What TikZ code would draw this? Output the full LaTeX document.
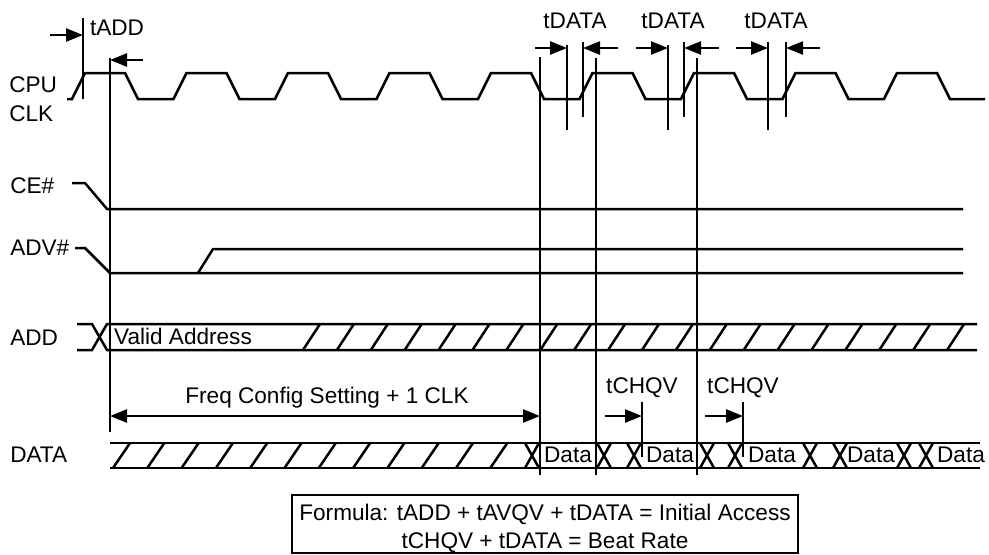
\documentclass[tikz,border=0pt]{standalone}
\usepackage{fontspec}
\setmainfont{Liberation Sans}
\usetikzlibrary{arrows.meta}
\begin{document}
\begin{tikzpicture}[x=0.5pt,y=-0.5pt,line width=1.25pt,
  lbl/.style={inner sep=0pt,font=\fontsize{11.3}{13}\selectfont},
  arr/.style={-{Triangle[length=8.5pt,width=6.5pt]}},
  darr/.style={{Triangle[length=8.5pt,width=6.5pt]}-{Triangle[length=8.5pt,width=6.5pt]}}]
\useasboundingbox (0,0) rectangle (989,554);
% ---------- signal labels
\node[lbl,anchor=base west] (cpu) at (8,92) {CPU};
\node[lbl,anchor=base west] (clk) at (8,121) {CLK};
\node[lbl,anchor=base west] (ce) at (9,193) {CE\#};
\node[lbl,anchor=base west] (adv) at (9,255) {ADV\#};
\node[lbl,anchor=base west] (add) at (9,345) {ADD};
\node[lbl,anchor=base west] (data) at (9,462) {DATA};
% ---------- CPU clock
\draw (67,99) foreach \k in {0,...,8} { -- ({72+101.5*\k},99) -- ({85+101.5*\k},73) -- ({125+101.5*\k},73) -- ({138+101.5*\k},99) } -- (985,99);
% ---------- CE#
\draw (72,183) -- (85,183) -- (107,209) -- (963,209);
% ---------- ADV#
\draw (75,248) -- (85,248) -- (110,273) -- (963,273);
\draw (198,273) -- (213,249) -- (963,249);
% ---------- ADD
\draw (77,324) -- (92,324) -- (107,350) -- (977,350);
\draw (77,350) -- (92,350) -- (107,324) -- (977,324);
\foreach \k in {0,...,19} \draw ({303+33.9*\k},350) -- ({320+33.9*\k},324);
\node[lbl,anchor=base] (valid) at (183,344) {Valid Address};
% ---------- DATA
\draw (110,443) -- (980,443);
\draw (110,468) -- (980,468);
\foreach \k in {0,...,11} \draw ({113+34.3*\k},468) -- ({130+34.3*\k},443);
\foreach \a in {525,597,627,700,728,803,833,897,919} {
  \draw (\a,443) -- ({\a+14},468);
  \draw (\a,468) -- ({\a+14},443);
}
\node[lbl,anchor=base] (d1) at (568,462) {Data};
\node[lbl,anchor=base] (d2) at (670,462) {Data};
\node[lbl,anchor=base] (d3) at (772,462) {Data};
\node[lbl,anchor=base] (d4) at (871,462) {Data};
\node[lbl,anchor=base] (d5) at (961,462) {Data};
% ---------- vertical reference lines
\coordinate (tA) at (83,18);  \coordinate (tAb) at (83,99);
\coordinate (tB) at (110,58); \coordinate (tBb) at (110,432);
\draw (tA) -- (tAb);
\draw (tB) -- (tBb);
\draw (540,57) -- (540,475);
\draw (596,58) -- (596,475);
\draw (697,58) -- (697,475);
\draw (567,45) -- (567,130);
\draw (583,42) -- (583,117);
\draw (668,45) -- (668,130);
\draw (684,42) -- (684,117);
\draw (768,42) -- (768,130);
\draw (786,42) -- (786,117);
\draw (642,402) -- (642,457);
\draw (743,402) -- (743,457);
% ---------- tADD
\node[lbl,anchor=base] (tadd) at (117,35) {tADD};
\coordinate (a1) at (50,35);  \coordinate (a1e) at (83,35);
\coordinate (a2) at (143,60); \coordinate (a2e) at (110,60);
\draw[arr] (a1) -- (a1e);
\draw[arr] (a2) -- (a2e);
% ---------- tDATA
\node[lbl,anchor=base] (td1) at (575,28) {tDATA};
\node[lbl,anchor=base] (td2) at (673,28) {tDATA};
\node[lbl,anchor=base] (td3) at (776,28) {tDATA};
\draw[arr] (535,48) -- (567,48);
\draw[arr] (618,48) -- (583,48);
\draw[arr] (636,48) -- (668,48);
\draw[arr] (719,48) -- (684,48);
\draw[arr] (736,48) -- (768,48);
\draw[arr] (820,48) -- (786,48);
% ---------- Freq config
\node[lbl,anchor=base] (freq) at (327,403) {Freq Config Setting + 1 CLK};
\draw[darr] (110,416) -- (540,416);
% ---------- tCHQV
\node[lbl,anchor=base] (tc1) at (642,393) {tCHQV};
\node[lbl,anchor=base] (tc2) at (743,393) {tCHQV};
\draw[arr] (605,416) -- (642,416);
\draw[arr] (705,416) -- (743,416);
% ---------- formula box
\draw (292,495) rectangle (798,553);
\node[lbl,anchor=base] (f1) at (545,520) {Formula: tADD + tAVQV + tDATA = Initial Access};
\node[lbl,anchor=base] (f2) at (545,548) {tCHQV + tDATA = Beat Rate};
\end{tikzpicture}
\end{document}
